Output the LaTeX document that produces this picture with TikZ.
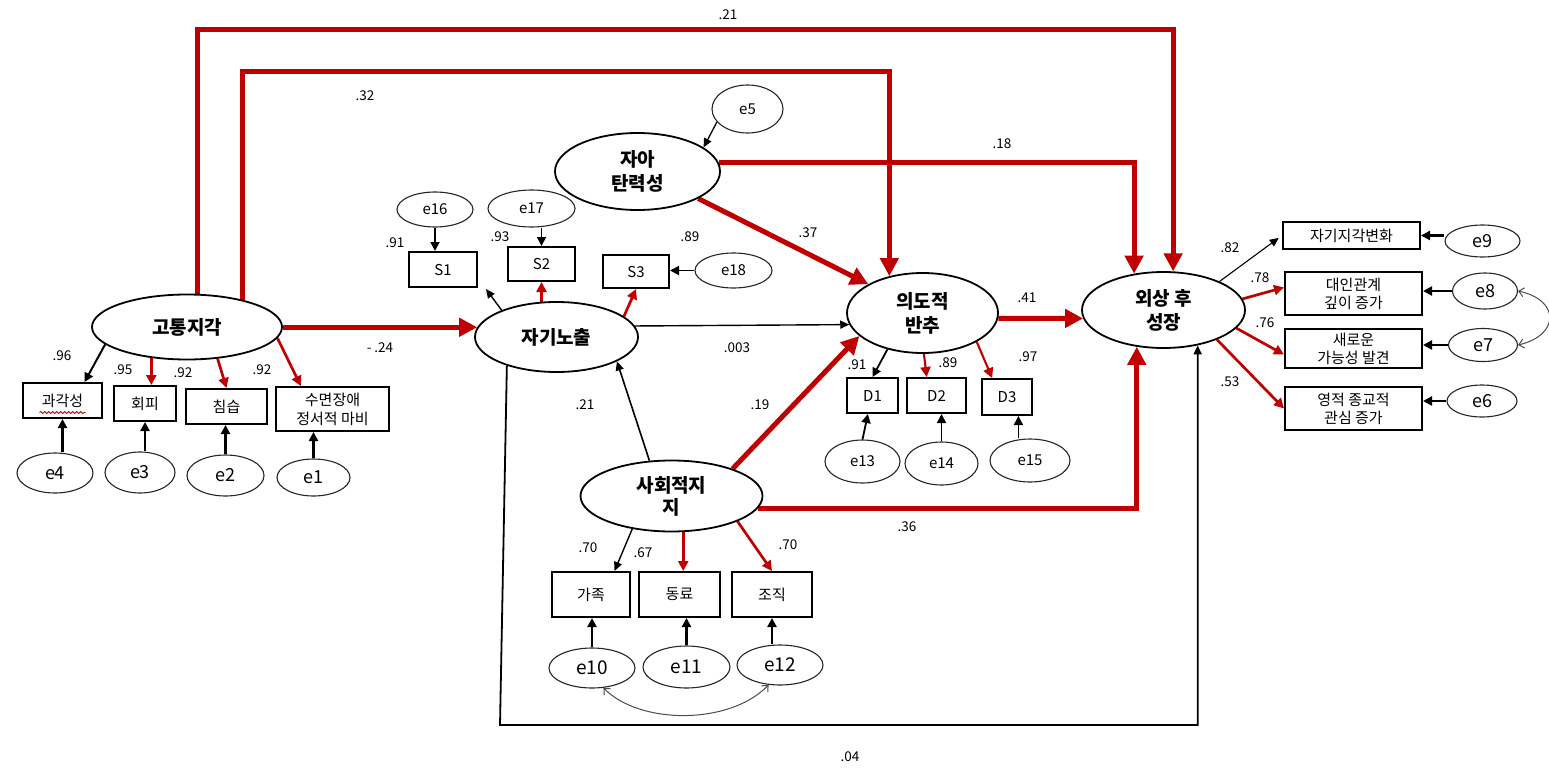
\documentclass[tikz,border=0pt]{standalone}
\usepackage{fontspec}
\setmainfont{Noto Sans CJK KR}
\usetikzlibrary{arrows.meta,shapes.geometric,calc,decorations.pathmorphing}
\definecolor{myred}{RGB}{192,0,0}
\pgfdeclarelayer{bg}
\pgfsetlayers{bg,main}
\tikzset{
  lat/.style={ellipse, draw, line width=1.8pt, fill=white, inner sep=0pt, align=center, font=\fontsize{19}{24}\selectfont\bfseries},
  ind/.style={rectangle, draw, line width=2pt, fill=white, inner sep=0pt, align=center, font=\fontsize{15}{18}\selectfont},
  err/.style={ellipse, draw=black!85, line width=1.1pt, fill=white, inner sep=0pt},
  lbl/.style={font=\fontsize{13.5}{16}\selectfont, inner sep=0pt},
  thickred/.style={draw=myred, line width=5pt, -{Triangle[length=18pt,width=18pt]}},
  medred/.style={draw=myred, line width=2.7pt, -{Triangle[length=10pt,width=10pt]}},
  blk/.style={draw=black, line width=2.2pt, -{Triangle[length=9pt,width=9pt]}},
  thinarr/.style={draw=black, line width=1.4pt, -{Triangle[length=9pt,width=8pt]}},
  cov/.style={draw=black!70, line width=1pt, {Straight Barb[length=5pt,width=9pt]}-{Straight Barb[length=5pt,width=9pt]}},
}
\begin{document}
\begin{tikzpicture}[x=1pt,y=-1pt]
\useasboundingbox (0,0) rectangle (1549,768);
\begin{pgfonlayer}{bg}
\fill[white] (0,0) rectangle (1549,768);
\end{pgfonlayer}

% latent variables
\node[lat, minimum width=190pt, minimum height=65pt] (gt) at (187,327) {고통지각};
\node[lat, minimum width=163pt, minimum height=70pt] (sd) at (556.5,337) {자기노출};
\node[lat, minimum width=165pt, minimum height=77pt] (at) at (637.5,171.5) {자아\\탄력성};
\node[lat, minimum width=151pt, minimum height=80pt] (rm) at (922.5,313) {의도적\\반추};
\node[lat, minimum width=163pt, minimum height=76pt] (pt) at (1163.5,310) {외상 후\\성장};
\node[lat, minimum width=182pt, minimum height=71pt, font=\fontsize{19}{22}\selectfont\bfseries] (ss) at (671.5,496) {사회적지\\지};

% indicators
\node[ind, minimum width=79pt, minimum height=35pt] (b1) at (62.5,400.5) {과각성};
\node[ind, minimum width=62pt, minimum height=35pt] (b2) at (145,403.5) {회피};
\node[ind, minimum width=81pt, minimum height=35pt] (b3) at (226.5,406.5) {침습};
\node[ind, minimum width=113pt, minimum height=44pt, font=\fontsize{15}{19}\selectfont] (b4) at (332.5,409) {수면장애\\정서적 마비};
\node[ind, minimum width=68pt, minimum height=35pt] (s1) at (443,269.5) {S1};
\node[ind, minimum width=67pt, minimum height=34pt] (s2) at (541.5,264) {S2};
\node[ind, minimum width=66pt, minimum height=33pt] (s3) at (636,271.5) {S3};
\node[ind, minimum width=51pt, minimum height=35pt] (d1) at (872.5,395.5) {D1};
\node[ind, minimum width=59pt, minimum height=35pt] (d2) at (936.5,395.5) {D2};
\node[ind, minimum width=50pt, minimum height=36pt] (d3) at (1007,397) {D3};
\node[ind, minimum width=137pt, minimum height=27pt] (p1) at (1351.5,235.5) {자기지각변화};
\node[ind, minimum width=137pt, minimum height=43pt] (p2) at (1353.5,293.5) {대인관계\\깊이 증가};
\node[ind, minimum width=137pt, minimum height=39pt] (p3) at (1353.5,348.5) {새로운\\가능성 발견};
\node[ind, minimum width=137pt, minimum height=43pt] (p4) at (1353.5,408.5) {영적 종교적\\관심 증가};
\node[ind, minimum width=78pt, minimum height=45pt] (f1) at (591,594.5) {가족};
\node[ind, minimum width=81pt, minimum height=45pt] (f2) at (679.5,594.5) {동료};
\node[ind, minimum width=80pt, minimum height=45pt] (f3) at (772,594.5) {조직};

% error terms
\begin{scope}[every node/.append style={font=\fontsize{18}{20}\selectfont}]
\node[err, minimum width=76pt, minimum height=40pt] (e4) at (55,473) {e4};
\node[err, minimum width=70pt, minimum height=41pt] (e3) at (140,472.5) {e3};
\node[err, minimum width=77pt, minimum height=41pt] (e2) at (225.5,475.5) {e2};
\node[err, minimum width=73pt, minimum height=37pt] (e1) at (313.5,477.5) {e1};
\node[err, minimum width=75pt, minimum height=32pt] (e9) at (1482.5,241) {e9};
\node[err, minimum width=65pt, minimum height=36pt] (e8) at (1485,291) {e8};
\node[err, minimum width=69pt, minimum height=33pt] (e7) at (1483,345) {e7};
\node[err, minimum width=70pt, minimum height=32pt] (e6) at (1482,401) {e6};
\node[err, minimum width=86pt, minimum height=40pt, font=\fontsize{19}{21}\selectfont] (e10) at (592,668) {e10};
\node[err, minimum width=87pt, minimum height=42pt, font=\fontsize{19}{21}\selectfont] (e11) at (686.5,667) {e11};
\node[err, minimum width=86pt, minimum height=40pt, font=\fontsize{19}{21}\selectfont] (e12) at (780,665) {e12};
\end{scope}
\begin{scope}[every node/.append style={font=\fontsize{15}{17}\selectfont}]
\node[err, minimum width=76pt, minimum height=35pt] (e16) at (435,209.5) {e16};
\node[err, minimum width=87pt, minimum height=37pt] (e17) at (531.5,208.5) {e17};
\node[err, minimum width=77pt, minimum height=35pt] (e18) at (733.5,270.5) {e18};
\node[err, minimum width=71pt, minimum height=48pt] (e5) at (747.5,109) {e5};
\node[err, minimum width=75pt, minimum height=43pt] (e13) at (862.5,461.5) {e13};
\node[err, minimum width=73pt, minimum height=43pt] (e14) at (941.5,463.5) {e14};
\node[err, minimum width=80pt, minimum height=43pt] (e15) at (1030,460.5) {e15};
\end{scope}

% routing points
\coordinate (c21) at (197,30);
\coordinate (c32) at (242,71);
\coordinate (c04) at (500,725);

\begin{pgfonlayer}{bg}
% structural paths
\draw[thickred] (c21 |- gt.center) -- (c21) -- (c21 -| pt.76) -- (pt.76);
\draw[thickred] (c32 |- gt.center) -- (c32) -- (c32 -| rm.132) -- (rm.132);
\draw[thickred] (at.6) -- (at.6 -| pt.129) -- (pt.129);
\draw[thickred] (ss.-8) -- (ss.-8 -| pt.-126) -- (pt.-126);
\draw[draw=black, line width=1.8pt, -{Triangle[length=9pt,width=8pt]}] (sd.-150) -- (c04) -- (c04 -| pt.-46) -- (pt.-46);
\draw[thickred] (gt.east |- sd.173) -- (sd.173);
\draw[thickred] (at.-24) -- (rm.152);
\draw[thinarr] (sd.8) -- (rm.189);
\draw[thickred] (rm.-4) -- (pt.186);
\draw[thinarr, line width=1.6pt] (ss.122) -- (sd.-22);
\draw[thickred] (ss.24) -- (rm.200);

% measurement: pain perception
\draw[blk, line width=2pt] (gt.-168) -- (b1.40);
\draw[medred] (gt.-139) -- (b2.north -| gt.-139);
\draw[medred] (gt.-46) -- (b3.north);
\draw[medred] (gt.-7) -- (b4.144);
\draw[blk] (e4.north -| b1.south) -- (b1.south);
\draw[blk] (e3.north -| b2.south) -- (b2.south);
\draw[blk] (e2.north) -- (e2.north |- b3.south);
\draw[blk] (e1.north) -- (e1.north |- b4.south);

% self disclosure
\draw[thinarr] (sd.154) -- ($(s1.south east)+(8,1)$);
\draw[medred] (s2.south |- sd.center) -- (s2.south);
\draw[medred] (sd.17) -- (s3.south);
\draw[blk, line width=1.8pt] (e16.south) -- (e16.south |- s1.north);
\draw[blk, line width=1.8pt] (s2.north |- e17.south) -- (s2.north);
\draw[blk, line width=1.8pt] (e18.west) -- (e18.west -| s3.east);

% resilience
\draw[thinarr, line width=1.3pt] (e5.-157) -- (at.20);

% rumination
\draw[blk, line width=1.8pt] (rm.-134) -- (d1.north);
\draw[medred, line width=2.1pt] (rm.-88) -- (d2.118);
\draw[medred, line width=2.1pt] (rm.-28) -- (d3.128);
\draw[blk, line width=1.8pt] (e13.north) -- (d1.-104);
\draw[blk, line width=1.8pt] (e14.north) -- (e14.north |- d2.south);
\draw[blk, line width=1.8pt] (d3.-59 |- e15.north) -- (d3.-59);

% growth
\draw[thinarr, line width=1.1pt, shorten >=4pt] (pt.27) -- (p1.west);
\draw[medred] (pt.8) -- (p2.175);
\draw[medred] (pt.-14) -- (p3.185);
\draw[medred] (pt.-29) -- (p4.west);
\draw[blk] (p1.east -| e9.west) -- (p1.east);
\draw[blk] (e8.west) -- (e8.west -| p2.east);
\draw[blk] (e7.west) -- (e7.west -| p3.east);
\draw[blk] (e6.west) -- (e6.west -| p4.east);
\draw[cov] (e8.east) .. controls (1560,300) and (1560,335) .. (e7.east);

% social support
\draw[thinarr] (ss.-140) -- (f1.45);
\draw[medred] (ss.-72) -- (f2.north -| ss.-72);
\draw[medred] (ss.-21) -- (f3.north);
\draw[blk] (e10.north) -- (e10.north |- f1.south);
\draw[blk] (e11.north) -- (e11.north |- f2.south);
\draw[blk] (f3.south |- e12.north) -- (f3.south);
\draw[cov] (e10.-60) .. controls (640,725) and (730,725) .. (e12.-120);
\end{pgfonlayer}

% spell-check underline
\draw[myred, line width=0.8pt, decorate, decoration={snake, amplitude=1pt, segment length=4pt}] ($(b1.center)+(-23,12)$) -- ($(b1.center)+(23,12)$);

% coefficients
\node[lbl] (l1) at (62,356) {.96};
\node[lbl] (l2) at (123,370) {.95};
\node[lbl] (l3) at (183,373) {.92};
\node[lbl] (l4) at (262,370) {.92};
\node[lbl] (l5) at (380,348) {- .24};
\node[lbl] (l6) at (728,15) {.21};
\node[lbl] (l7) at (365,96) {.32};
\node[lbl] (l8) at (1002,144) {.18};
\node[lbl] (l9) at (808,233) {.37};
\node[lbl] (l10) at (395,243) {.91};
\node[lbl] (l11) at (500,237) {.93};
\node[lbl] (l12) at (690,237) {.89};
\node[lbl] (l13) at (737,348) {.003};
\node[lbl] (l14) at (857,365) {.91};
\node[lbl] (l15) at (948,363) {.89};
\node[lbl] (l16) at (1028,357) {.97};
\node[lbl] (l17) at (1027,298) {.41};
\node[lbl] (l18) at (1230,248) {.82};
\node[lbl] (l19) at (1260,278) {.78};
\node[lbl] (l20) at (1265,323) {.76};
\node[lbl] (l21) at (1230,382) {.53};
\node[lbl] (l22) at (585,405) {.21};
\node[lbl] (l23) at (760,405) {.19};
\node[lbl] (l24) at (907,527) {.36};
\node[lbl] (l25) at (588,548) {.70};
\node[lbl] (l26) at (643,553) {.67};
\node[lbl] (l27) at (788,545) {.70};
\node[lbl] (l28) at (850,757) {.04};
\end{tikzpicture}
\end{document}
